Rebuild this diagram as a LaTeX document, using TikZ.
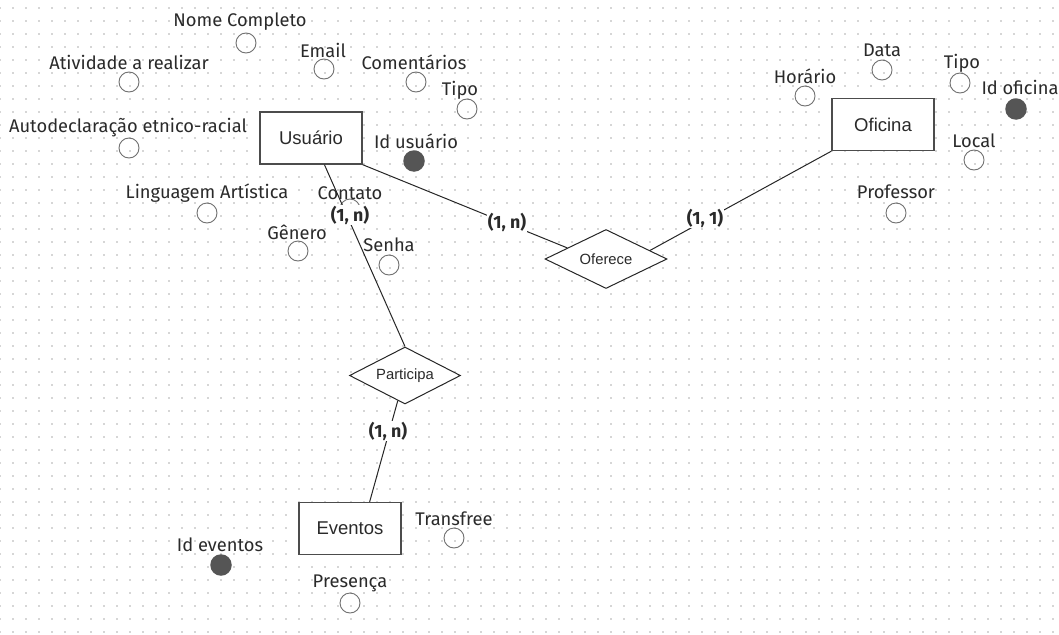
\documentclass[tikz,border=0pt]{standalone}
\usepackage{fontspec}
\setmainfont{Fira Sans}
\newfontfamily\arialf{Liberation Sans}
\usetikzlibrary{shapes.geometric,calc}
\definecolor{attrgray}{HTML}{707070}
\definecolor{keygray}{HTML}{555555}
\definecolor{txt}{HTML}{2A2A2A}
\definecolor{gridc}{HTML}{D6D6D6}
\tikzset{
  attrlabel/.style={text=txt,font=\fontsize{18.3}{21}\selectfont,inner sep=0pt},
  attrcirc/.style={circle,draw=attrgray,line width=0.9pt,minimum size=20pt,inner sep=0pt},
  keycirc/.style={circle,fill=keygray,minimum size=21.5pt,inner sep=0pt},
  entity/.style={draw=black!70,line width=1.4pt,fill=white,minimum width=102pt,minimum height=52pt,inner sep=0pt,font=\arialf\fontsize{18.5}{21}\selectfont,text=txt},
  relation/.style={diamond,draw=black!85,line width=1pt,fill=white,aspect=2,inner sep=0pt,font=\arialf\fontsize{14.8}{17}\selectfont,text=txt},
  card/.style={fill=white,inner sep=1pt,font=\bfseries\fontsize{17.8}{20}\selectfont,text=txt},
  conn/.style={draw=black!85,line width=1pt},
  dotrow/.style={draw=gridc,line width=1.3pt,dash pattern=on 1.3pt off 11.7pt}
}
\begin{document}
\begin{tikzpicture}[x=1pt,y=-1pt]
\useasboundingbox (0,0) rectangle (1059,634);
\fill[white] (0,0) rectangle (1059,634);
% dotted grid
\foreach \k in {0,...,48} {
  \draw[dotrow] (-0.65,{8+13*\k}) -- (1060,{8+13*\k});
}
% entities
\node[entity] (usuario) at (311,138) {Usuário};
\node[entity] (oficina) at (883,124.5) {Oficina};
\node[entity] (eventos) at (350,528.5) {Eventos};
% relations
\node[relation,minimum width=122pt,minimum height=59pt] (oferece) at (606,259) {Oferece};
\node[relation,minimum width=111pt,minimum height=57pt] (participa) at (405,375.5) {Participa};
% attribute circles
\node[attrcirc] (cNome) at (246,43) {};
\node[attrcirc] (cAtiv) at (129,82) {};
\node[attrcirc] (cEmail) at (324,69) {};
\node[attrcirc] (cComent) at (416,82) {};
\node[attrcirc] (cTipoU) at (467,109) {};
\node[attrcirc] (cAuto) at (129,148) {};
\node[keycirc] (cIdU) at (414,161) {};
\node[attrcirc] (cLing) at (207,213) {};
\node[attrcirc] (cCont) at (350,209) {};
\node[attrcirc] (cGen) at (298,251) {};
\node[attrcirc] (cSenha) at (389,265) {};
\node[attrcirc] (cHor) at (805,96) {};
\node[attrcirc] (cData) at (882,70) {};
\node[attrcirc] (cTipoO) at (960,83) {};
\node[keycirc] (cIdO) at (1016,109) {};
\node[attrcirc] (cLocal) at (974,160) {};
\node[attrcirc] (cProf) at (896,213) {};
\node[attrcirc] (cTrans) at (454,538) {};
\node[keycirc] (cIdE) at (221,565) {};
\node[attrcirc] (cPres) at (350,603) {};
% connectors
\draw[conn] (usuario.south east) -- (oferece.164);
\draw[conn] (oficina.south west) -- (oferece.11);
\draw[conn] ($(usuario.south west)!0.63!(usuario.south east)$) -- (participa.north);
\draw[conn] (participa.254) -- ($(eventos.north west)!0.69!(eventos.north east)$);
% attribute labels
\node[attrlabel] (lNome) at (240,22) {Nome Completo};
\node[attrlabel] (lAtiv) at (129,62) {Atividade a realizar};
\node[attrlabel] (lEmail) at (323,50) {Email};
\node[attrlabel] (lComent) at (414,62) {Comentários};
\node[attrlabel] (lTipoU) at (460,90) {Tipo};
\node[attrlabel] (lAuto) at (128,128) {Autodeclaração etnico-racial};
\node[attrlabel] (lIdU) at (416,141) {Id usuário};
\node[attrlabel] (lLing) at (207,193) {Linguagem Artística};
\node[attrlabel] (lCont) at (350,193) {Contato};
\node[attrlabel] (lGen) at (297,232) {Gênero};
\node[attrlabel] (lSenha) at (389,245) {Senha};
\node[attrlabel] (lHor) at (805,76) {Horário};
\node[attrlabel] (lData) at (882,50) {Data};
\node[attrlabel] (lTipoO) at (962,63) {Tipo};
\node[attrlabel] (lIdO) at (1020,87) {Id oficina};
\node[attrlabel] (lLocal) at (974,141) {Local};
\node[attrlabel] (lProf) at (896,192) {Professor};
\node[attrlabel] (lTrans) at (454,519) {Transfree};
\node[attrlabel] (lIdE) at (220,545) {Id eventos};
\node[attrlabel] (lPres) at (350,583) {Presença};
% cardinalities
\node[card] (k1) at (350,215) {(1, n)};
\node[card] (k2) at (507,222) {(1, n)};
\node[card] (k3) at (705,218) {(1, 1)};
\node[card] (k4) at (388,431) {(1, n)};
\end{tikzpicture}
\end{document}
